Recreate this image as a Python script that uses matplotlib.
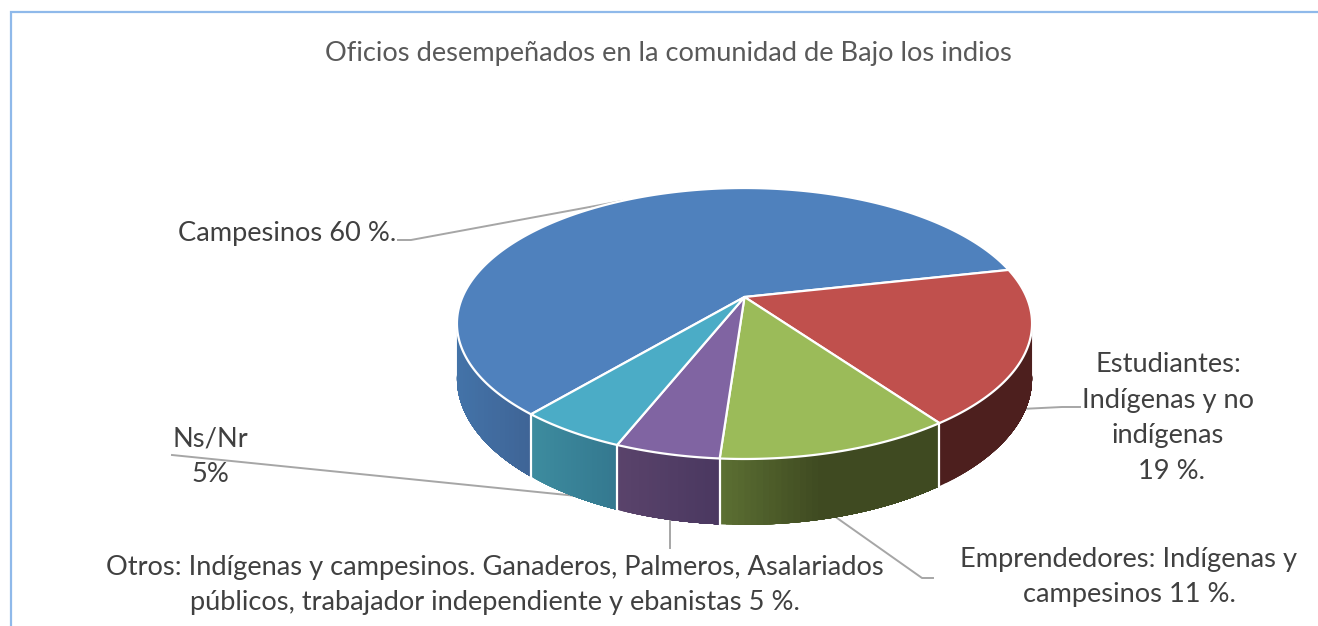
import numpy as np
import matplotlib
matplotlib.use('Agg')
import matplotlib.pyplot as plt
from matplotlib.patches import Polygon

plt.rcParams['font.family'] = ['Lato', 'DejaVu Sans']

TITLE = 'Oficios desempeñados en la comunidad de Bajo los indios'
CATEGORIES = ['Campesinos', 'Estudiantes', 'Emprendedores', 'Otros', 'Ns/Nr']
# shares as measured on the slices, the labels print them rounded
VALUES = [60.4, 18.6, 11, 4.9, 5.1]
TOP_COLORS = ['#4F81BD', '#C0504D', '#9BBB59', '#8064A2', '#4BACC6']
SIDE_LEFT = ['#4373A8', '#4D1F1E', '#5C7033', '#5A436B', '#3D8C9F']
SIDE_RIGHT = ['#3F6496', '#4D1F1E', '#3F4A21', '#4A3860', '#34788F']
LABELS = [
    'Campesinos 60 %.',
    'Estudiantes:\nIndígenas y no\nindígenas\n 19 %.',
    'Emprendedores: Indígenas y\ncampesinos 11 %.',
    'Otros: Indígenas y campesinos. Ganaderos, Palmeros, Asalariados\npúblicos, trabajador independiente y ebanistas 5 %.',
    'Ns/Nr\n5%',
]

# pie projection (pixels)
CX, CY = 744.5, 297
A, B, K = 282, 130.3, 0.1956
DEPTH = 53
START = 229.94


def project(theta, drop=0.0):
    u = np.cos(np.radians(theta))
    v = np.sin(np.radians(theta))
    w = 1 + K * v
    return CX + A * u / w, CY - B * v / w + drop * DEPTH / w


def rim(t0, t1, drop=0.0):
    t = np.linspace(t0, t1, max(int(abs(t1 - t0)) * 2, 2))
    x, y = project(t, drop=drop)
    return np.column_stack([x, y])


def mix(c1, c2, f):
    c1 = np.array(matplotlib.colors.to_rgb(c1))
    c2 = np.array(matplotlib.colors.to_rgb(c2))
    return c1 + (c2 - c1) * f


fig = plt.figure(figsize=(13.18, 6.26), dpi=100)
ax = fig.add_axes([0, 0, 1, 1])
ax.set_xlim(0, 1318)
ax.set_ylim(626, 0)
ax.axis('off')

# frame of the chart box, only top and left are in view
ax.plot([10.5, 10.5, 1318], [626, 12, 12], color='#8FB9EA', lw=1.6, solid_joinstyle='miter')

# slice angles, clockwise from START
angles = START - 3.6 * np.cumsum([0] + VALUES)

# sides, only the front of the rim can be seen
for i in range(len(VALUES)):
    ts = np.linspace(angles[i + 1], angles[i], 400)
    ts = ts[np.sin(np.radians(ts)) < 0.14]
    xs = project(ts)[0]
    x_left, x_right = xs.min(), xs.max()
    steps = np.linspace(ts.min(), ts.max(), 40)
    # each strip runs to the end of the slice so no seams show between them
    for n, a in enumerate(steps[:-1]):
        top = rim(a, ts.max())
        bot = rim(a, ts.max(), drop=1.0)
        f = (project((a + steps[n + 1]) / 2)[0] - x_left) / (x_right - x_left)
        f = min(1, f * (2.2 if i == 2 else 1))
        c = mix(SIDE_LEFT[i], SIDE_RIGHT[i], f)
        ax.add_patch(Polygon(np.vstack([top, bot[::-1]]), fc=c, ec='none', zorder=2 + n * 0.001))

# white dividers on the side
for a in angles[:-1]:
    x0, y0 = project(a)
    x1, y1 = project(a, drop=1.0)
    ax.plot([x0, x1], [y0, y1], color='white', lw=1.6, zorder=3)

# top of the pie
for i in range(len(VALUES)):
    pts = np.vstack([[CX, CY], rim(angles[i], angles[i + 1])])
    ax.add_patch(Polygon(pts, closed=True, fc=TOP_COLORS[i], ec='white', lw=1.6, joinstyle='round', zorder=4))

# leader lines
leaders = [
    ([398, 411, 622], [240, 240, 201]),
    ([1080, 1062, 1021], [407, 407, 409]),
    ([837, 922, 933], [518, 578, 578]),
    ([670, 670], [521, 548]),
    ([172, 577], [455, 496]),
]
for lx, ly in leaders:
    ax.plot(lx, ly, color='#A6A6A6', lw=1.4, zorder=1)

FS = 19.6
ax.text(668.5, 53, TITLE, fontsize=FS, color='#595959', ha='center', va='center')

spacing = 1.53
ax.text(178, 234, LABELS[0], fontsize=FS, color='#404040', ha='left', va='center')
ax.text(1168, 418, LABELS[1], fontsize=FS, color='#404040', ha='center', va='center', linespacing=spacing)
ax.text(1129, 577, LABELS[2], fontsize=FS, color='#404040', ha='center', va='center', linespacing=spacing)
ax.text(495, 585, LABELS[3], fontsize=FS, color='#404040', ha='center', va='center', linespacing=spacing)
ax.text(210, 457, LABELS[4], fontsize=FS, color='#404040', ha='center', va='center', linespacing=spacing)

fig.savefig('out.png', dpi=100)
